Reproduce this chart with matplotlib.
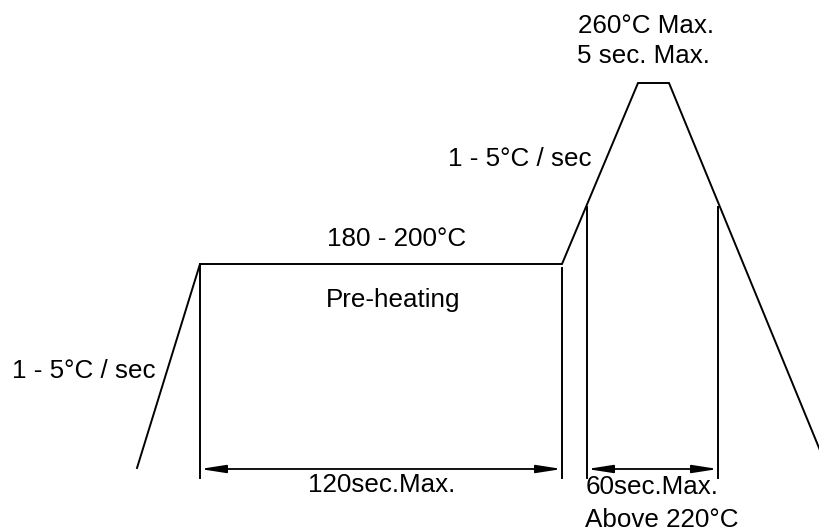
import matplotlib
matplotlib.use("Agg")
import matplotlib.pyplot as plt

plt.rcParams['font.family'] = ['Liberation Sans', 'DejaVu Sans']

# --- profile (pixel coords, y down) ---
profile_x = [137, 200, 562, 638, 669, 824]
profile_y = [468, 264, 264, 83, 83, 460]

# vertical marker lines
vline_x = [200, 562, 587, 718]
vline_top = [264, 268, 207, 207]
vline_bottom = [478, 478, 478, 478]

# dimension arrows (start, end, y)
dim_start = [200, 587]
dim_end = [562, 718]
dim_y = [469, 469]

# labels: text, x, baseline y, alignment
labels = [
    ("260°C Max.", 578, 33, "left"),
    ("5 sec. Max.", 577, 63, "left"),
    ("1 - 5°C / sec", 448, 166, "left"),
    ("180 - 200°C", 397, 246, "center"),
    ("Pre-heating", 393, 307, "center"),
    ("1 - 5°C / sec", 12, 378, "left"),
    ("120sec.Max.", 382, 492, "center"),
    ("60sec.Max.", 586, 494, "left"),
    ("Above 220°C", 585, 527, "left"),
]

fig = plt.figure(figsize=(8.2, 5.32), dpi=100)
ax = fig.add_axes([0, 0, 1, 1])
ax.set_xlim(0, 820)
ax.set_ylim(532, 0)
ax.axis('off')

ax.plot(profile_x, profile_y, color='black', lw=1.4, solid_joinstyle='miter')

for x, t, b in zip(vline_x, vline_top, vline_bottom):
    ax.plot([x, x], [t, b], color='black', lw=1.4)

for s, e, y in zip(dim_start, dim_end, dim_y):
    ax.annotate("", xy=(e, y), xytext=(s, y),
                arrowprops=dict(arrowstyle='<|-|>,head_length=0.9,head_width=0.14',
                                color='black', lw=1.3, mutation_scale=17,
                                shrinkA=0, shrinkB=0))

for txt, x, y, ha in labels:
    ax.text(x, y, txt, ha=ha, va='baseline', fontsize=18.7, color='black')

fig.savefig("out.png", dpi=100, facecolor='white')
